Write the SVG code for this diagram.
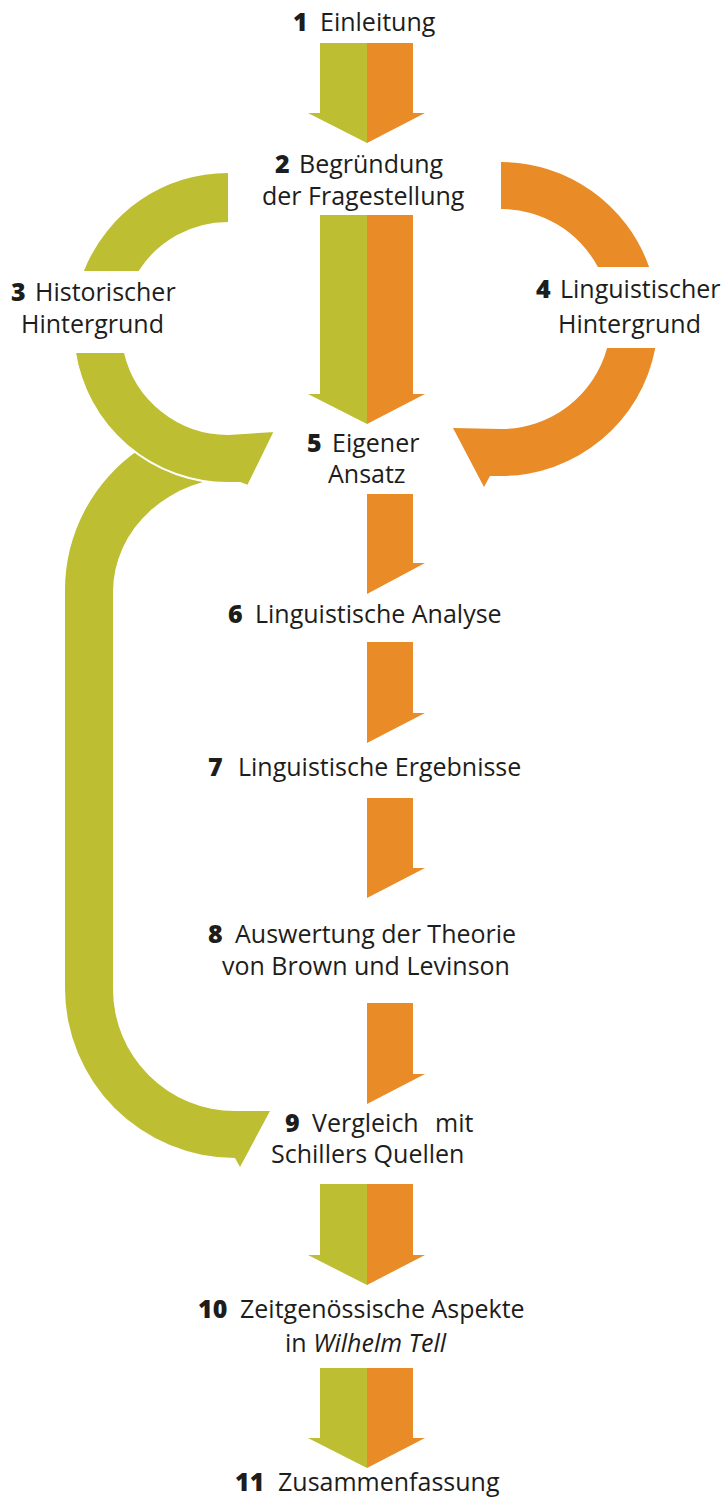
<svg xmlns="http://www.w3.org/2000/svg" width="728" height="1500" viewBox="0 0 728 1500">
<style>
.t{font-family:"Open Sans","Liberation Sans",sans-serif;font-size:25px;fill:#1d1d1b}
.n{font-weight:800}
.i{font-style:italic}
.g{fill:#bdbe32}
.o{fill:#e98c27}
.gw{fill:#bdbe32;stroke:#ffffff;stroke-width:2;stroke-linejoin:miter}
</style>
<rect width="728" height="1500" fill="#ffffff"/>
<g id="connectors">
  <g id="c1-2">
    <polygon class="g" points="320,43 367,43 367,143 308,113 320,113"/>
    <polygon class="o" points="367,43 413,43 413,113 425,113 367,143"/>
  </g>
  <g id="c2-5">
    <polygon class="g" points="320,215 367,215 367,424 308,394 320,394"/>
    <polygon class="o" points="367,215 413,215 413,394 425,394 367,424"/>
  </g>
  <path id="c2-3" class="g" d="M228,173 A155,155 0 0 0 83.9,271 L138.6,271 A106,106 0 0 1 228,222 Z"/>
  <path id="c2-4" class="o" d="M501,162 A157,157 0 0 1 649.1,267 L597.9,267 A110,110 0 0 0 501,209 Z"/>
  <path id="c4-5" class="o" d="M655.3,348 A157,157 0 0 1 501,476 L490,476 L484,487 L453,428 L501,429 A110,110 0 0 0 607.1,348 Z"/>
  <path id="c5-9" class="g" d="M140,449 A170,170 0 0 0 65,590 L65,988 A170,170 0 0 0 235,1158 L240,1167 L270,1111 L235,1111 A122,122 0 0 1 113,989 L113,592 A127,115 0 0 1 240,477 Z"/>
  <path id="c3-5" class="gw" d="M74.9,352 A155,155 0 0 0 228,483 L240,483 L248,486 L275,431 L228,434 A106,106 0 0 1 124.8,352 Z"/>
  <polygon id="c5-6" class="o" points="367,494 413,494 413,563 425,563 367,594"/>
  <polygon id="c6-7" class="o" points="367,642 413,642 413,713 425,713 367,743"/>
  <polygon id="c7-8" class="o" points="367,798 413,798 413,868 425,868 367,898"/>
  <polygon id="c8-9" class="o" points="367,1003 413,1003 413,1074 425,1074 367,1104"/>
  <g id="c9-10">
    <polygon class="g" points="320,1184 367,1184 367,1285 308,1255 320,1255"/>
    <polygon class="o" points="367,1184 413,1184 413,1255 425,1255 367,1285"/>
  </g>
  <g id="c10-11">
    <polygon class="g" points="320,1368 367,1368 367,1468 308,1438 320,1438"/>
    <polygon class="o" points="367,1368 413,1368 413,1438 425,1438 367,1468"/>
  </g>
</g>
<g id="node1"><text class="t" y="31"><tspan class="n" x="293">1</tspan><tspan x="320">Einleitung</tspan></text></g>
<g id="node2">
  <text class="t" y="173"><tspan class="n" x="275">2</tspan><tspan x="299">Begründung</tspan></text>
  <text class="t" x="262" y="205">der Fragestellung</text>
</g>
<g id="node3">
  <text class="t" y="301"><tspan class="n" x="11">3</tspan><tspan x="35">Historischer</tspan></text>
  <text class="t" x="21" y="333">Hintergrund</text>
</g>
<g id="node4">
  <text class="t" y="298"><tspan class="n" x="536">4</tspan><tspan x="560">Linguistischer</tspan></text>
  <text class="t" x="558" y="333">Hintergrund</text>
</g>
<g id="node5">
  <text class="t" y="452"><tspan class="n" x="307">5</tspan><tspan x="332">Eigener</tspan></text>
  <text class="t" x="328" y="483">Ansatz</text>
</g>
<g id="node6"><text class="t" y="623"><tspan class="n" x="228">6</tspan><tspan x="255">Linguistische Analyse</tspan></text></g>
<g id="node7"><text class="t" y="776"><tspan class="n" x="208">7</tspan><tspan x="238">Linguistische Ergebnisse</tspan></text></g>
<g id="node8">
  <text class="t" y="943"><tspan class="n" x="208">8</tspan><tspan x="235">Auswertung der Theorie</tspan></text>
  <text class="t" x="222" y="975">von Brown und Levinson</text>
</g>
<g id="node9">
  <text class="t" y="1132"><tspan class="n" x="285">9</tspan><tspan x="312">Vergleich</tspan><tspan x="435">mit</tspan></text>
  <text class="t" x="271" y="1163">Schillers Quellen</text>
</g>
<g id="node10">
  <text class="t" y="1318"><tspan class="n" x="198">10</tspan><tspan x="240">Zeitgenössische Aspekte</tspan></text>
  <text class="t" y="1352"><tspan x="285">in </tspan><tspan class="i">Wilhelm Tell</tspan></text>
</g>
<g id="node11"><text class="t" y="1491"><tspan class="n" x="235">11</tspan><tspan x="278">Zusammenfassung</tspan></text></g>
</svg>
